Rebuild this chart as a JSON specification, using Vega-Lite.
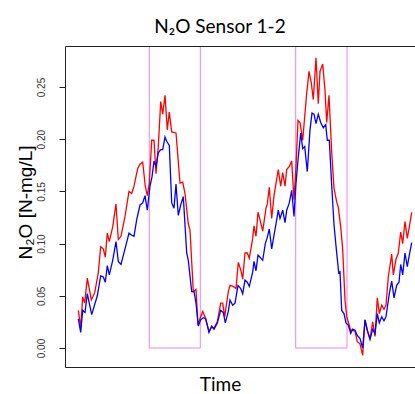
{
  "$schema": "https://vega.github.io/schema/vega-lite/v6.json",
  "width": 350,
  "height": 321,
  "autosize": {"type": "none"},
  "padding": {"left": 65, "top": 46, "right": 0, "bottom": 27},
  "background": "white",
  "config": {"view": {"stroke": null}},
  "title": {"text": "N₂O Sensor 1-2", "font": "Lato", "fontSize": 19, "fontWeight": "normal", "color": "#000000", "anchor": "middle", "frame": "group", "dx": -20, "baseline": "alphabetic", "offset": -6},
  "datasets": {
    "rects": [
      {"start": 71.3, "end": 122.3, "lo": 0, "hi": 0.2893},
      {"start": 217.7, "end": 269, "lo": 0, "hi": 0.2893}
    ],
    "s1": [
      {"t":0.3,"v":0.036},{"t":2.7,"v":0.020},{"t":4.7,"v":0.049},{"t":6.7,"v":0.043},{"t":9.3,"v":0.067},{"t":13.3,"v":0.046},{"t":16.7,"v":0.053},{"t":20.3,"v":0.072},{"t":22.7,"v":0.097},{"t":25.3,"v":0.095},{"t":27.3,"v":0.087},{"t":29.3,"v":0.110},{"t":31.3,"v":0.102},{"t":34.7,"v":0.116},{"t":38,"v":0.138},{"t":40.3,"v":0.104},{"t":43,"v":0.107},{"t":47,"v":0.126},{"t":51,"v":0.150},{"t":53.7,"v":0.148},{"t":56,"v":0.155},{"t":59.7,"v":0.172},{"t":62,"v":0.176},{"t":64.7,"v":0.178},{"t":67.3,"v":0.155},{"t":69.3,"v":0.146},{"t":71.3,"v":0.158},{"t":73.7,"v":0.199},{"t":76,"v":0.199},{"t":78,"v":0.167},{"t":80.3,"v":0.193},{"t":82.7,"v":0.236},{"t":84.7,"v":0.224},{"t":87,"v":0.242},{"t":89.3,"v":0.209},{"t":91.3,"v":0.226},{"t":93.7,"v":0.207},{"t":98,"v":0.206},{"t":102,"v":0.158},{"t":104.7,"v":0.159},{"t":107,"v":0.148},{"t":110.3,"v":0.119},{"t":112,"v":0.113},{"t":115.3,"v":0.054},{"t":118,"v":0.056},{"t":120,"v":0.022},{"t":122,"v":0.028},{"t":124.7,"v":0.035},{"t":127,"v":0.030},{"t":131,"v":0.016},{"t":133.7,"v":0.020},{"t":136,"v":0.019},{"t":139.3,"v":0.025},{"t":142.7,"v":0.043},{"t":144.7,"v":0.043},{"t":146.7,"v":0.030},{"t":150.3,"v":0.054},{"t":152,"v":0.060},{"t":155.3,"v":0.059},{"t":158,"v":0.057},{"t":160.3,"v":0.082},{"t":162.7,"v":0.075},{"t":164.7,"v":0.066},{"t":167,"v":0.091},{"t":169.3,"v":0.091},{"t":171.3,"v":0.086},{"t":174.7,"v":0.105},{"t":176,"v":0.117},{"t":178,"v":0.107},{"t":180,"v":0.130},{"t":182,"v":0.123},{"t":184.7,"v":0.112},{"t":188,"v":0.134},{"t":189.3,"v":0.138},{"t":191.3,"v":0.154},{"t":193.7,"v":0.124},{"t":196,"v":0.146},{"t":198,"v":0.158},{"t":200.3,"v":0.171},{"t":202.7,"v":0.155},{"t":204.7,"v":0.168},{"t":207,"v":0.155},{"t":208.7,"v":0.171},{"t":211.3,"v":0.174},{"t":213.7,"v":0.179},{"t":216,"v":0.142},{"t":218,"v":0.174},{"t":220,"v":0.218},{"t":222,"v":0.216},{"t":224.7,"v":0.199},{"t":227,"v":0.225},{"t":228.7,"v":0.244},{"t":231,"v":0.265},{"t":233.3,"v":0.254},{"t":235.3,"v":0.238},{"t":238,"v":0.278},{"t":240.3,"v":0.234},{"t":242,"v":0.265},{"t":244.7,"v":0.272},{"t":247,"v":0.247},{"t":248.7,"v":0.216},{"t":251,"v":0.242},{"t":253.7,"v":0.188},{"t":256,"v":0.153},{"t":258.7,"v":0.140},{"t":260.3,"v":0.135},{"t":262.7,"v":0.116},{"t":264.7,"v":0.094},{"t":267,"v":0.046},{"t":268.7,"v":0.030},{"t":270.3,"v":0.025},{"t":272.7,"v":0.017},{"t":274.7,"v":0.017},{"t":277,"v":0.016},{"t":279.3,"v":0.006},{"t":282,"v":0.004},{"t":284.7,"v":-0.007},{"t":287,"v":0.027},{"t":289.3,"v":0.017},{"t":292,"v":0.009},{"t":294.7,"v":0.025},{"t":297,"v":0.011},{"t":299.3,"v":0.048},{"t":301.3,"v":0.033},{"t":303.7,"v":0.041},{"t":306,"v":0.037},{"t":308,"v":0.041},{"t":310.3,"v":0.068},{"t":313.7,"v":0.090},{"t":315.3,"v":0.070},{"t":318,"v":0.085},{"t":320.3,"v":0.091},{"t":322.7,"v":0.111},{"t":324.7,"v":0.100},{"t":327,"v":0.121},{"t":329.3,"v":0.105},{"t":331.3,"v":0.116},{"t":333.7,"v":0.130}
    ],
    "s2": [
      {"t":0.3,"v":0.028},{"t":2.7,"v":0.015},{"t":4.7,"v":0.036},{"t":7,"v":0.034},{"t":9.3,"v":0.052},{"t":13.7,"v":0.032},{"t":19.3,"v":0.050},{"t":22.7,"v":0.069},{"t":25.3,"v":0.068},{"t":27.3,"v":0.063},{"t":29.3,"v":0.079},{"t":31.3,"v":0.070},{"t":34.7,"v":0.084},{"t":38,"v":0.102},{"t":40.3,"v":0.083},{"t":43,"v":0.080},{"t":47,"v":0.095},{"t":51,"v":0.110},{"t":53.7,"v":0.108},{"t":56,"v":0.107},{"t":58.7,"v":0.123},{"t":62,"v":0.137},{"t":64.7,"v":0.139},{"t":67,"v":0.146},{"t":69.3,"v":0.132},{"t":72,"v":0.155},{"t":74,"v":0.164},{"t":76,"v":0.179},{"t":78,"v":0.174},{"t":80.3,"v":0.187},{"t":82.7,"v":0.190},{"t":84.7,"v":0.190},{"t":87,"v":0.202},{"t":88.7,"v":0.198},{"t":91.3,"v":0.194},{"t":93.7,"v":0.139},{"t":96,"v":0.134},{"t":98,"v":0.157},{"t":100.3,"v":0.127},{"t":102.7,"v":0.137},{"t":105.3,"v":0.145},{"t":108.7,"v":0.091},{"t":110.3,"v":0.084},{"t":113.7,"v":0.054},{"t":116,"v":0.054},{"t":118,"v":0.043},{"t":120.3,"v":0.021},{"t":122.7,"v":0.027},{"t":125.3,"v":0.029},{"t":127.7,"v":0.028},{"t":131,"v":0.015},{"t":133.7,"v":0.021},{"t":136,"v":0.018},{"t":139.3,"v":0.024},{"t":142.7,"v":0.036},{"t":145.3,"v":0.034},{"t":147.3,"v":0.024},{"t":150.3,"v":0.035},{"t":152,"v":0.046},{"t":154.7,"v":0.041},{"t":157,"v":0.043},{"t":160,"v":0.060},{"t":162.7,"v":0.057},{"t":164.7,"v":0.052},{"t":167,"v":0.065},{"t":169.3,"v":0.063},{"t":171.3,"v":0.059},{"t":174.7,"v":0.073},{"t":176,"v":0.083},{"t":178,"v":0.074},{"t":180,"v":0.089},{"t":182,"v":0.087},{"t":184.7,"v":0.084},{"t":187.3,"v":0.100},{"t":189.3,"v":0.106},{"t":191.3,"v":0.114},{"t":193.7,"v":0.095},{"t":196,"v":0.108},{"t":198,"v":0.119},{"t":200.3,"v":0.132},{"t":202,"v":0.124},{"t":204.7,"v":0.132},{"t":207,"v":0.120},{"t":208.7,"v":0.132},{"t":211.3,"v":0.139},{"t":213.7,"v":0.151},{"t":216,"v":0.126},{"t":218,"v":0.158},{"t":220.3,"v":0.183},{"t":222.7,"v":0.206},{"t":224.7,"v":0.191},{"t":226.7,"v":0.193},{"t":229.3,"v":0.169},{"t":232,"v":0.209},{"t":234,"v":0.225},{"t":236,"v":0.224},{"t":238,"v":0.215},{"t":240.3,"v":0.224},{"t":242.7,"v":0.216},{"t":245.3,"v":0.211},{"t":247.7,"v":0.214},{"t":249.3,"v":0.199},{"t":251.3,"v":0.199},{"t":253.7,"v":0.156},{"t":256,"v":0.118},{"t":258.7,"v":0.091},{"t":260.7,"v":0.072},{"t":262,"v":0.073},{"t":263.7,"v":0.036},{"t":266,"v":0.033},{"t":268,"v":0.024},{"t":270.3,"v":0.022},{"t":272.7,"v":0.014},{"t":274.7,"v":0.018},{"t":277,"v":0.017},{"t":279.3,"v":0.012},{"t":282,"v":0.009},{"t":284.7,"v":0.000},{"t":287,"v":0.027},{"t":289.3,"v":0.017},{"t":292,"v":0.008},{"t":294.7,"v":0.018},{"t":297,"v":0.014},{"t":299.3,"v":0.033},{"t":301.3,"v":0.024},{"t":303.7,"v":0.030},{"t":306,"v":0.026},{"t":308,"v":0.030},{"t":311.3,"v":0.052},{"t":313.7,"v":0.064},{"t":316,"v":0.048},{"t":318.7,"v":0.060},{"t":321,"v":0.063},{"t":322.7,"v":0.080},{"t":324.7,"v":0.070},{"t":327,"v":0.091},{"t":329.3,"v":0.078},{"t":331.3,"v":0.089},{"t":333.7,"v":0.101}
    ]
  },
  "layer": [
    {
      "data": {"name": "rects"},
      "mark": {"type": "rect", "fill": null, "fillOpacity": 0, "stroke": "#EE82EE", "strokeWidth": 1, "clip": true},
      "encoding": {
        "x": {"field": "start", "type": "quantitative", "scale": {"domain": [-13, 337], "nice": false, "zero": false},
              "axis": {"orient": "top", "title": null, "labels": false, "ticks": false, "grid": false, "domain": true, "domainColor": "#222222", "domainWidth": 1, "zindex": 1, "minExtent": 0, "maxExtent": 0}},
        "x2": {"field": "end"},
        "y": {"field": "lo", "type": "quantitative", "title": "N₂O [N-mg/L]", "scale": {"domain": [-0.0182, 0.2893], "nice": false, "zero": false},
              "axis": {"values": [0, 0.05, 0.1, 0.15, 0.2, 0.25], "format": ".2f", "grid": false, "labelAngle": 270, "labelAlign": "center", "labelBaseline": "bottom", "labelFont": "Liberation Sans", "labelFontSize": 10, "labelColor": "#333333", "labelPadding": 13, "tickSize": 6, "tickColor": "#222222", "domainColor": "#222222", "titleFont": "Liberation Sans", "titleFontSize": 19, "titleFontWeight": "normal", "titleColor": "#000000", "titleAngle": 270, "titleX": -40, "titleY": 156, "titleAlign": "center", "titleBaseline": "middle"}},
        "y2": {"field": "hi"}
      }
    },
    {
      "layer": [
        {
          "data": {"name": "s1"},
          "mark": {"type": "line", "color": "#FF0000", "strokeWidth": 1.3, "clip": true},
          "encoding": {
            "x": {"field": "t", "type": "quantitative", "title": "Time",
                  "axis": {"orient": "bottom", "labels": false, "ticks": false, "grid": false, "domainColor": "#222222", "titleFont": "Lato", "titleFontSize": 19, "titleFontWeight": "normal", "titleColor": "#000000", "titleX": 155, "titleY": 23, "titleAlign": "center", "titleBaseline": "alphabetic"}},
            "y": {"field": "v", "type": "quantitative", "title": "N₂O [N-mg/L]"}
          }
        },
        {
          "data": {"name": "s2"},
          "mark": {"type": "line", "color": "#0000FF", "strokeWidth": 1.3, "clip": true},
          "encoding": {
            "x": {"field": "t", "type": "quantitative", "title": "Time"},
            "y": {"field": "v", "type": "quantitative", "title": "N₂O [N-mg/L]"}
          }
        }
      ]
    }
  ],
  "resolve": {"axis": {"x": "independent"}}
}
